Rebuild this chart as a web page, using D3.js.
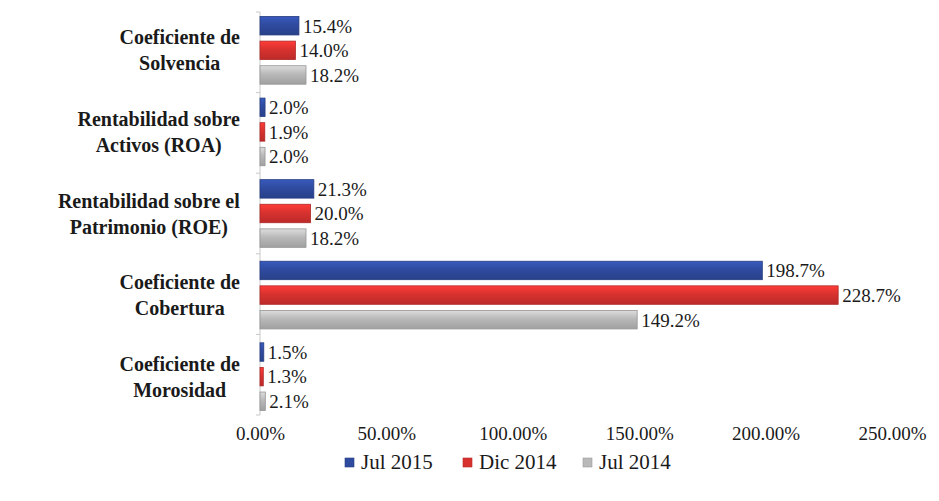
<!DOCTYPE html>
<html>
<head>
<meta charset="utf-8">
<script src="https://cdn.jsdelivr.net/npm/d3@7"></script>
<style>
  body { margin: 0; background: #fff; }
  svg text { font-family: "Liberation Serif", "Times New Roman", Times, "DejaVu Serif", serif; fill: #1a1a1a; }
</style>
</head>
<body>
<svg id="chart"></svg>
<script>
let w = 939, h = 501;
let margin = { top: 12, right: 40, bottom: 86, left: 260 };
let serif = "'Liberation Serif', 'Times New Roman', Times, 'DejaVu Serif', serif";

// categories, top to bottom, each label split on two lines
let categories = ["Solvencia", "ROA", "ROE", "Cobertura", "Morosidad"];
let catLines = [
    ["Coeficiente de", "Solvencia"],
    ["Rentabilidad sobre", "Activos (ROA)"],
    ["Rentabilidad sobre el", "Patrimonio (ROE)"],
    ["Coeficiente de", "Cobertura"],
    ["Coeficiente de", "Morosidad"]
];
let seriesNames = ["Jul 2015", "Dic 2014", "Jul 2014"];
let jul2015 = [15.4, 2.0, 21.3, 198.7, 1.5];
let dic2014 = [14.0, 1.9, 20.0, 228.7, 1.3];
let jul2014 = [18.2, 2.0, 18.2, 149.2, 2.1];
let tickValues = [0, 50, 100, 150, 200, 250];
let colors = ["#2f4b9f", "#d8322f", "#b9b9b9"];

let series = [jul2015, dic2014, jul2014];

let svg = d3.select("#chart").attr("width", w).attr("height", h);

// gradients for the shaded look
let defs = svg.append("defs");
colors.forEach(function (c, i) {
    let g = defs.append("linearGradient")
        .attr("id", "grad" + i)
        .attr("x1", 0).attr("y1", 0).attr("x2", 0).attr("y2", 1);
    g.append("stop").attr("offset", "0%").attr("stop-color", d3.color(c).brighter(0.5));
    g.append("stop").attr("offset", "45%").attr("stop-color", c);
    g.append("stop").attr("offset", "100%").attr("stop-color", d3.color(c).darker(0.4));
});

let xScale = d3.scaleLinear()
    .domain([0, 250])
    .range([margin.left, 892]);

let yScale = d3.scaleBand()
    .domain(categories)
    .range([margin.top, h - margin.bottom])
    .paddingInner(0.14)
    .paddingOuter(0.04);

let inner = d3.scaleBand()
    .domain(d3.range(series.length))
    .range([0, yScale.bandwidth()])
    .paddingInner(0.25)
    .paddingOuter(0.05);

// left axis line with small ticks between groups
svg.append("line")
    .attr("x1", margin.left).attr("x2", margin.left)
    .attr("y1", margin.top).attr("y2", h - margin.bottom)
    .attr("stroke", "#c8c8c8");

svg.selectAll(".ytick")
    .data(d3.range(categories.length + 1))
    .enter()
    .append("line")
    .attr("x1", margin.left - 4).attr("x2", margin.left)
    .attr("y1", function (i) { return margin.top + i * (h - margin.bottom - margin.top) / categories.length; })
    .attr("y2", function (i) { return margin.top + i * (h - margin.bottom - margin.top) / categories.length; })
    .attr("stroke", "#c8c8c8");

// bars
series.forEach(function (vals, si) {
    let g = svg.append("g");
    g.selectAll("rect")
        .data(vals)
        .enter()
        .append("rect")
        .attr("x", xScale(0))
        .attr("y", function (d, i) { return yScale(categories[i]) + inner(si); })
        .attr("width", function (d) { return xScale(d) - xScale(0); })
        .attr("height", inner.bandwidth())
        .attr("fill", "url(#grad" + si + ")")
        .attr("stroke", d3.color(colors[si]).darker(0.6))
        .attr("stroke-width", 0.8);

    g.selectAll("text")
        .data(vals)
        .enter()
        .append("text")
        .attr("x", function (d) { return xScale(d) + 4; })
        .attr("y", function (d, i) { return yScale(categories[i]) + inner(si) + inner.bandwidth() / 2; })
        .attr("dy", "0.36em")
        .style("font-family", serif)
        .style("font-size", "19px")
        .text(function (d) { return d.toFixed(1) + "%"; });
});

// category labels, lines centred on each other, block right-aligned
categories.forEach(function (c, i) {
    let t = svg.append("text")
        .attr("text-anchor", "middle")
        .attr("y", yScale(c) + yScale.bandwidth() / 2 - 6)
        .style("font-family", serif)
        .style("font-size", "20px")
        .style("font-weight", "bold");
    catLines[i].forEach(function (line, k) {
        t.append("tspan")
            .attr("x", 0)
            .attr("dy", k === 0 ? "0" : "1.3em")
            .text(line);
    });
    let bb = t.node().getBBox();
    t.attr("transform", "translate(" + (margin.left - 20 - bb.width / 2) + ",0)");
});

// x axis labels
let xAxis = d3.axisBottom(xScale)
    .tickValues(tickValues)
    .tickSize(0)
    .tickPadding(12)
    .tickFormat(function (d) { return d.toFixed(2) + "%"; });

let ax = svg.append("g")
    .attr("transform", "translate(0," + (h - margin.bottom) + ")")
    .call(xAxis);
ax.select(".domain").remove();
ax.selectAll("text")
    .style("font-family", serif)
    .style("font-size", "19px")
    .attr("fill", "#1a1a1a");

// legend
let legendX = [345, 463, 583];
seriesNames.forEach(function (s, i) {
    let lg = svg.append("g").attr("transform", "translate(" + legendX[i] + ",462)");
    lg.append("rect")
        .attr("x", 0).attr("y", -4)
        .attr("width", 9).attr("height", 9)
        .attr("fill", colors[i])
        .attr("stroke", d3.color(colors[i]).darker(0.5))
        .attr("stroke-width", 0.6);
    lg.append("text")
        .attr("x", 16).attr("y", 0)
        .attr("dy", "0.35em")
        .style("font-family", serif)
        .style("font-size", "21px")
        .text(s);
});
</script>
</body>
</html>
